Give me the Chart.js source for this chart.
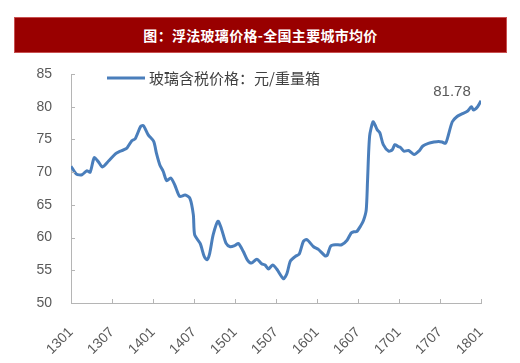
<!DOCTYPE html>
<html>
<head>
<meta charset="utf-8">
<script src="https://cdn.jsdelivr.net/npm/chart.js@4.4.1/dist/chart.umd.min.js"></script>
<style>
  html, body { margin: 0; padding: 0; background: #fff; }
  #wrap { position: relative; width: 520px; height: 363px; }
  #title {
    position: absolute; left: 14px; top: 17px; width: 491px; height: 34px;
    background: #990000; border: 1px solid #c85050;
    color: #fff; font: bold 14px "Noto Sans CJK SC", sans-serif;
    line-height: 34px; text-align: center; letter-spacing: 0.3px;
  }
</style>
</head>
<body>
<div id="wrap">
  <canvas id="c" width="520" height="363"></canvas>
  <div id="title">图：浮法玻璃价格-全国主要城市均价</div>
</div>
<script>
// months since 2013-01 (1301 = 0, 1801 = 60)
const months = [0, 0.8, 1.6, 2.3, 2.8, 3.4, 4.0, 4.6, 5.5, 6.5, 7.0, 7.7, 8.2, 8.9, 9.4, 10.2, 10.6, 11.3,
  12.1, 12.5, 13.0, 13.5, 14.0, 14.6, 15.2, 15.9, 16.7, 17.4, 17.9, 18.1, 18.9, 19.5, 19.9, 20.3, 20.8,
  21.5, 22.0, 22.7, 23.3, 24.0, 24.5, 25.2, 25.8, 26.4, 27.2, 27.9, 28.4, 28.9, 29.5, 30.1, 31.1, 31.6,
  32.1, 32.8, 33.4, 34.0, 34.5, 35.5, 36.2, 37.2, 37.5, 38.0, 38.7, 39.6, 40.4, 41.0, 41.4, 41.8, 42.4,
  42.8, 43.2, 43.4, 43.7, 44.2, 44.5, 44.8, 45.2, 45.7, 46.5, 47.0, 47.4, 47.9, 48.2, 48.7, 49.4, 50.2,
  50.9, 51.5, 52.3, 53.1, 53.8, 54.3, 54.8, 55.1, 55.8, 56.5, 57.2, 58.0, 58.6, 58.9, 59.5, 60];
const prices = [70.9, 69.7, 69.6, 70.2, 70.0, 72.2, 71.6, 70.8, 71.7, 72.8, 73.1, 73.4, 73.7, 74.8, 75.1, 77.0, 77.1, 75.7,
  74.7, 72.9, 71.1, 70.1, 68.7, 69.1, 68.0, 66.3, 66.5, 66.0, 63.5, 60.4, 59.1, 57.1, 56.6, 57.6, 60.4,
  62.5, 61.4, 59.1, 58.6, 58.8, 59.1, 57.9, 56.6, 56.1, 56.7, 56.0, 55.8, 55.2, 55.8, 55.2, 53.7, 54.5,
  56.4, 57.1, 57.5, 59.4, 59.7, 58.6, 58.2, 57.2, 57.3, 58.7, 58.9, 58.9, 59.6, 60.7, 60.9, 60.9, 61.8,
  62.6, 64.2, 68.8, 75.5, 77.7, 77.2, 76.5, 76.0, 74.2, 73.2, 73.4, 74.2, 73.9, 73.8, 73.2, 73.3, 72.7,
  73.2, 74.0, 74.4, 74.6, 74.7, 74.6, 74.4, 75.2, 77.7, 78.5, 78.9, 79.3, 80.0, 79.5, 80.0, 80.9];
const xLabels = ['1301', '1307', '1401', '1407', '1501', '1507', '1601', '1607', '1701', '1707', '1801'];
const yTicks = [50, 55, 60, 65, 70, 75, 80, 85];
const seriesName = '玻璃含税价格：元/重量箱';
const lastLabel = '81.78';

const axisColor = '#b5b5b5';
const textColor = '#595959';

const points = months.map((m, i) => ({ x: m, y: prices[i] }));

const extras = {
  id: 'extras',
  afterDraw(chart) {
    const ctx = chart.ctx;
    const xs = chart.scales.x, ys = chart.scales.y;
    const a = chart.chartArea;
    ctx.save();
    ctx.strokeStyle = axisColor;
    ctx.lineWidth = 1;
    // inward tick marks
    xLabels.forEach((_, i) => {
      const px = Math.round(xs.getPixelForValue(i * 6)) + 0.5;
      ctx.beginPath(); ctx.moveTo(px, a.bottom); ctx.lineTo(px, a.bottom - 4); ctx.stroke();
    });
    yTicks.forEach(v => {
      const py = Math.round(ys.getPixelForValue(v)) + 0.5;
      ctx.beginPath(); ctx.moveTo(a.left, py); ctx.lineTo(a.left + 4, py); ctx.stroke();
    });
    // legend
    ctx.strokeStyle = '#4a7ebb';
    ctx.lineWidth = 3;
    ctx.beginPath(); ctx.moveTo(107, 78); ctx.lineTo(145, 78); ctx.stroke();
    ctx.fillStyle = '#404040';
    ctx.font = '15px "Noto Sans CJK SC", sans-serif';
    ctx.textBaseline = 'middle';
    ctx.textAlign = 'left';
    ctx.fillText(seriesName, 149, 78);
    // last value label
    const meta = chart.getDatasetMeta(0);
    const last = meta.data[meta.data.length - 1];
    ctx.fillStyle = textColor;
    ctx.font = '15px "Liberation Sans", Arial, sans-serif';
    ctx.textAlign = 'center';
    ctx.fillText(lastLabel, last.x - 29, last.y - 9);
    ctx.restore();
  }
};

new Chart(document.getElementById('c'), {
  type: 'line',
  data: {
    datasets: [{
      label: seriesName,
      data: points,
      borderColor: '#4a7ebb',
      borderWidth: 3,
      pointRadius: 0,
      tension: 0.25,
      fill: false
    }]
  },
  options: {
    responsive: false,
    animation: false,
    layout: { padding: { top: 74, right: 39, bottom: 0, left: 0 } },
    plugins: { legend: { display: false }, tooltip: { enabled: false } },
    scales: {
      x: {
        type: 'linear', min: 0, max: 60,
        afterBuildTicks(s) { s.ticks = xLabels.map((_, i) => ({ value: i * 6 })); },
        afterFit(s) { s.height = 60; },
        grid: { display: false, drawTicks: false },
        border: { display: true, color: axisColor, width: 1 },
        ticks: {
          autoSkip: false, maxRotation: 45, minRotation: 45, padding: 21,
          color: textColor, font: { family: '"Liberation Sans", Arial, sans-serif', size: 14 },
          callback(v) { return xLabels[Math.round(v / 6)]; }
        }
      },
      y: {
        min: 50, max: 85,
        afterBuildTicks(s) { s.ticks = yTicks.map(v => ({ value: v })); },
        afterFit(s) { s.width = 71; },
        grid: { display: false, drawTicks: false },
        border: { display: true, color: axisColor, width: 1 },
        ticks: {
          padding: 19, color: textColor,
          font: { family: '"Liberation Sans", Arial, sans-serif', size: 14 }
        }
      }
    }
  },
  plugins: [extras]
});
</script>
</body>
</html>
